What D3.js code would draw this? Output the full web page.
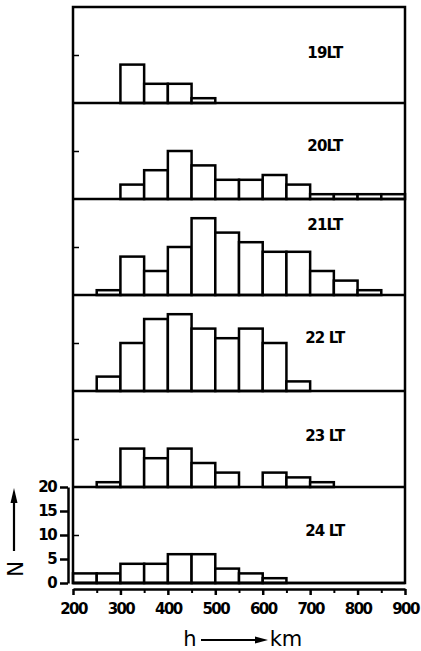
<!DOCTYPE html>
<html>
<head>
<meta charset="utf-8">
<script src="https://cdn.jsdelivr.net/npm/d3@7/dist/d3.min.js"></script>
<style>
body { margin: 0; background: white; }
svg { display: block; }
</style>
</head>
<body>
<div id="container"></div>
<script>
// histograms of height h per local time, bins of 50 km
const hours = ["19LT", "20LT", "21LT", "22 LT", "23 LT", "24 LT"]
const binStarts = [200, 250, 300, 350, 400, 450, 500, 550, 600, 650, 700, 750, 800, 850]
const counts19 = [0, 0, 8, 4, 4, 1, 0, 0, 0, 0, 0, 0, 0, 0]
const counts20 = [0, 0, 3, 6, 10, 7, 4, 4, 5, 3, 1, 1, 1, 1]
const counts21 = [0, 1, 8, 5, 10, 16, 13, 11, 9, 9, 5, 3, 1, 0]
const counts22 = [0, 3, 10, 15, 16, 13, 11, 13, 10, 2, 0, 0, 0, 0]
const counts23 = [0, 1, 8, 6, 8, 5, 3, 0, 3, 2, 1, 0, 0, 0]
const counts24 = [2, 2, 4, 4, 6, 6, 3, 2, 1, 0, 0, 0, 0, 0]
const xTicks = [200, 300, 400, 500, 600, 700, 800, 900]
const xMinorTicks = [250, 350, 450, 550, 650, 750, 850]
const yTicks = [0, 5, 10, 15, 20]
const labelAt = [9.4, 10, 13.5, 10, 9.6, 9.8]

const allCounts = [counts19, counts20, counts21, counts22, counts23, counts24]
const binWidth = 50

const w = 421
const h = 651
const padLeft = 73
const padRight = 405
const padTop = 7
const padBottom = 583

const svg = d3.select("#container")
    .append("svg")
    .attr("width", w)
    .attr("height", h)
    .style("background-color", "white")

const xScale = d3.scaleLinear()
    .domain([200, 900])
    .range([padLeft, padRight])
const panelScale = d3.scaleBand()
    .domain(hours)
    .range([padTop, padBottom])
const yScale = d3.scaleLinear()
    .domain([0, 20])
    .range([panelScale.bandwidth(), 0])

const boldFont = "'DejaVu Sans', sans-serif"

hours.forEach((hour, i) => {
    const g = svg.append("g")
        .attr("transform", `translate(0, ${panelScale(hour)})`)
    const bins = binStarts
        .map((b, j) => ({ x0: b, x1: b + binWidth, n: allCounts[i][j] }))
        .filter((d) => d.n > 0)

    g.selectAll(null)
        .data(bins)
        .enter()
        .append("rect")
        .attr("x", (d) => xScale(d.x0))
        .attr("y", (d) => yScale(d.n))
        .attr("width", (d) => xScale(d.x1) - xScale(d.x0))
        .attr("height", (d) => yScale(0) - yScale(d.n))
        .attr("fill", "white")
        .attr("stroke", "black")
        .attr("stroke-width", 2.5)

    // baseline of panel
    g.append("line")
        .attr("x1", xScale(200))
        .attr("x2", xScale(900))
        .attr("y1", yScale(0))
        .attr("y2", yScale(0))
        .attr("stroke", "black")
        .attr("stroke-width", 2.5)

    // inner tick at 10
    const inner = g.append("g")
        .attr("transform", `translate(${xScale(200)}, 0)`)
        .call(d3.axisRight(yScale).tickValues([10]).tickSize(6).tickFormat(""))
    inner.select(".domain").remove()
    inner.selectAll("line").attr("stroke-width", 1.5)

    g.append("text")
        .attr("x", xScale(731))
        .attr("y", yScale(labelAt[i]))
        .attr("text-anchor", "middle")
        .style("font-family", boldFont)
        .style("font-weight", "bold")
        .style("font-size", "15px")
        .style("letter-spacing", "-0.8px")
        .text(hour)
})

// outer frame
svg.append("rect")
    .attr("x", xScale(200))
    .attr("y", padTop)
    .attr("width", xScale(900) - xScale(200))
    .attr("height", padBottom - padTop)
    .attr("fill", "none")
    .attr("stroke", "black")
    .attr("stroke-width", 2.5)

// N axis on the bottom panel
const yAxis = svg.append("g")
    .attr("transform", `translate(${padLeft - 5}, ${panelScale(hours[5])})`)
    .call(d3.axisLeft(yScale).tickValues(yTicks).tickSize(8).tickSizeOuter(0).tickPadding(4))
yAxis.select(".domain").attr("stroke-width", 2.5)
yAxis.selectAll("line").attr("stroke-width", 2.5)
yAxis.selectAll("text")
    .style("font-family", boldFont)
    .style("font-weight", "bold")
    .style("font-size", "15px")
    .style("letter-spacing", "-1.6px")

// h axis
const xAxisY = padBottom + 6
const xAxis = svg.append("g")
    .attr("transform", `translate(0, ${xAxisY})`)
    .call(d3.axisBottom(xScale).tickValues(xTicks).tickSize(6).tickSizeOuter(0).tickPadding(8))
xAxis.select(".domain").attr("stroke-width", 2.5)
xAxis.selectAll("line").attr("stroke-width", 2.5)
xAxis.selectAll("text")
    .style("font-family", boldFont)
    .style("font-weight", "bold")
    .style("font-size", "15px")
    .style("letter-spacing", "-1.6px")
const minor = svg.append("g")
    .attr("transform", `translate(0, ${xAxisY})`)
    .call(d3.axisBottom(xScale).tickValues(xMinorTicks).tickSize(4).tickFormat(""))
minor.select(".domain").remove()
minor.selectAll("line").attr("stroke-width", 2)

// arrow heads drawn as plain paths
function arrow(x1, y1, x2, y2, headLen, headHalf) {
    const a = Math.atan2(y2 - y1, x2 - x1)
    const bx = x2 - headLen * Math.cos(a)
    const by = y2 - headLen * Math.sin(a)
    svg.append("line")
        .attr("x1", x1)
        .attr("y1", y1)
        .attr("x2", bx)
        .attr("y2", by)
        .attr("stroke", "black")
        .attr("stroke-width", 2.2)
    const px = -Math.sin(a) * headHalf
    const py = Math.cos(a) * headHalf
    svg.append("path")
        .attr("d", `M${x2},${y2} L${bx + px},${by + py} L${bx - px},${by - py} Z`)
        .attr("fill", "black")
}

// x label: h ---> km
svg.append("text")
    .attr("x", 190)
    .attr("y", 646)
    .attr("text-anchor", "middle")
    .style("font-family", "'DejaVu Sans', sans-serif")
    .style("font-size", "21px")
    .text("h")
arrow(201, 640, 268, 640, 13, 3.5)
svg.append("text")
    .attr("x", 286)
    .attr("y", 646)
    .attr("text-anchor", "middle")
    .style("font-family", "'DejaVu Sans', sans-serif")
    .style("font-size", "21px")
    .text("km")

// y label: N with upward arrow
svg.append("text")
    .attr("transform", "translate(23, 569) rotate(-90)")
    .attr("text-anchor", "middle")
    .style("font-family", "'DejaVu Sans', sans-serif")
    .style("font-size", "21px")
    .text("N")
arrow(14, 551, 14, 488, 15, 3.5)
</script>
</body>
</html>
